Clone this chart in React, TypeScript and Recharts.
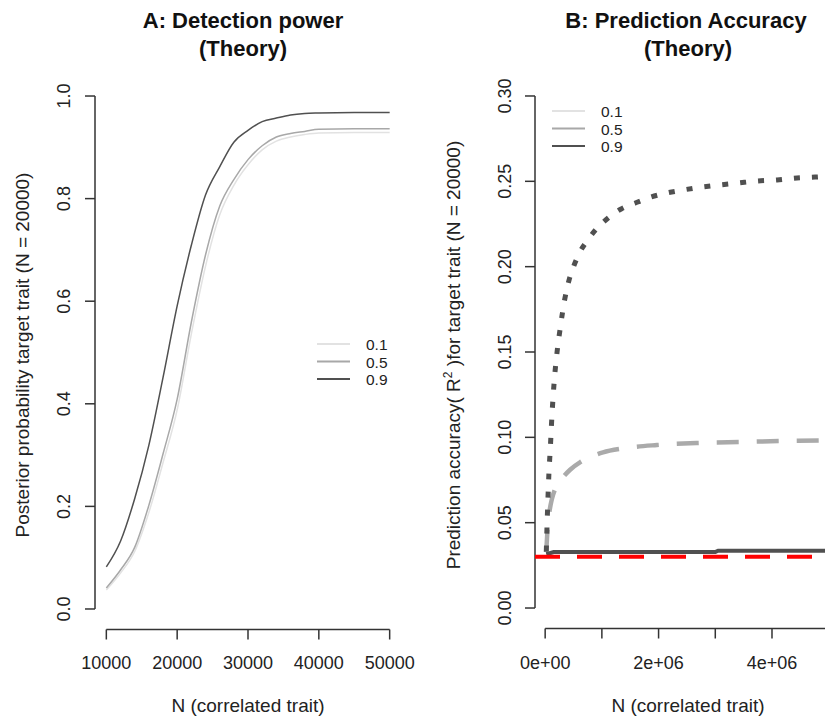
import React from 'react';
import { LineChart, Line, XAxis, YAxis, ReferenceLine } from 'recharts';

const FONT = '"Liberation Sans", Arial, sans-serif';

// Panel A: posterior probability vs N (correlated trait), one curve per correlation
const N_A = [10000, 12000, 14000, 16000, 18000, 20000, 22000, 24000, 26000, 28000, 30000, 32000, 34000, 36000, 38000, 40000, 45000, 50000];
const POWER_01 = [0.037, 0.07, 0.112, 0.188, 0.285, 0.388, 0.536, 0.668, 0.768, 0.826, 0.866, 0.895, 0.912, 0.92, 0.925, 0.928, 0.929, 0.929];
const POWER_05 = [0.041, 0.076, 0.12, 0.202, 0.302, 0.409, 0.559, 0.69, 0.785, 0.837, 0.876, 0.903, 0.92, 0.927, 0.931, 0.935, 0.936, 0.936];
const POWER_09 = [0.082, 0.132, 0.215, 0.319, 0.451, 0.591, 0.709, 0.807, 0.862, 0.91, 0.933, 0.95, 0.957, 0.963, 0.966, 0.967, 0.968, 0.968];
const X_TICKS_A = [10000, 20000, 30000, 40000, 50000];
const Y_TICKS_A = [0, 0.2, 0.4, 0.6, 0.8, 1.0];

// Panel B: prediction accuracy vs N (correlated trait)
const N_DOT = [20000, 30000, 45000, 65000, 90000, 120000, 160000, 210000, 270000, 340000, 420000, 500000, 620000, 760000, 920000, 1110000, 1340000, 1590000, 1870000, 2150000, 2430000, 2770000, 3080000, 3400000, 3750000, 4090000, 4440000, 4760000, 5000000];
const ACC_DOT = [0.033, 0.045, 0.06, 0.078, 0.093, 0.113, 0.133, 0.15, 0.165, 0.18, 0.192, 0.2, 0.209, 0.216, 0.2227, 0.2285, 0.2338, 0.2373, 0.2408, 0.2432, 0.2449, 0.2467, 0.2479, 0.249, 0.2502, 0.2508, 0.252, 0.2525, 0.253];
const N_DASH = [20000, 40000, 70000, 120000, 180000, 300000, 440000, 620000, 800000, 1020000, 1370000, 1970000, 2680000, 3440000, 4140000, 4900000, 5000000];
const ACC_DASH = [0.033, 0.045, 0.055, 0.064, 0.07, 0.076, 0.081, 0.0855, 0.0885, 0.0912, 0.0935, 0.0955, 0.0967, 0.0973, 0.0978, 0.0982, 0.0983];
const N_SOLID = [20000, 150000, 3000000, 3050000, 5000000];
const ACC_SOLID = [0.0315, 0.0328, 0.0328, 0.0336, 0.0336];
const BASELINE_R2 = 0.03;
const X_TICKS_B = [0, 1e6, 2e6, 3e6, 4e6, 5e6];
const X_LABELS_B = ['0e+00', '', '2e+06', '', '4e+06', ''];
const Y_TICKS_B = [0, 0.05, 0.1, 0.15, 0.2, 0.25, 0.3];

const LEGEND_LABELS = ['0.1', '0.5', '0.9'];
const LEGEND_COLORS = ['#e2e2e2', '#a8a8a8', '#505050'];

const dataA = N_A.map((n, i) => ({ n, p01: POWER_01[i], p05: POWER_05[i], p09: POWER_09[i] }));
const pts = (ns: number[], vs: number[]) => ns.map((n, i) => ({ n, v: vs[i] }));

const tickStyle = { fill: '#222', fontSize: 18, fontFamily: FONT };

const rotatedTick = (labelX: number, digits: number) => (props: any) => {
  const { y, payload } = props;
  return (
    <text x={labelX} y={y} transform={`rotate(-90 ${labelX} ${y})`} textAnchor="middle"
      fontSize={18} fill="#222" fontFamily={FONT}>
      {Number(payload.value).toFixed(digits)}
    </text>
  );
};

// legend rows are packed tight like the R legend
const Legend = ({ x, y }: { x: number; y: number }) => (
  <g>
    {LEGEND_LABELS.map((lab, i) => (
      <g key={lab}>
        <line x1={x} x2={x + 33} y1={y + i * 17.5} y2={y + i * 17.5} stroke={LEGEND_COLORS[i]} strokeWidth={2} />
        <text x={x + 49} y={y + i * 17.5 + 6} fontSize={15.5} fill="#222">{lab}</text>
      </g>
    ))}
  </g>
);

export default function App() {
  return (
    <div style={{ position: 'absolute', left: 0, top: 0, width: 825, height: 719, overflow: 'hidden', background: '#fff', fontFamily: FONT }}>
      {/* A: detection power */}
      <div style={{ position: 'absolute', left: 0, top: 0 }}>
        <LineChart width={825} height={719} data={dataA} margin={{ left: 35, right: 424, top: 75.5, bottom: 29.5 }}>
          <XAxis dataKey="n" type="number" domain={[8400, 51600]} ticks={X_TICKS_A} interval={0}
            axisLine={false} tickLine={{ stroke: '#333', strokeWidth: 1.5 }} tickSize={10} tickMargin={17}
            tick={tickStyle} height={60} />
          <YAxis type="number" domain={[-0.04, 1.04]} ticks={Y_TICKS_A} interval={0} width={60}
            axisLine={false} tickLine={{ stroke: '#333', strokeWidth: 1.5 }} tickSize={10}
            tick={rotatedTick(70, 1)} />
          <ReferenceLine ifOverflow="visible" stroke="#333" strokeWidth={1.5}
            segment={[{ x: X_TICKS_A[0], y: -0.04 }, { x: X_TICKS_A[X_TICKS_A.length - 1], y: -0.04 }]} />
          <ReferenceLine ifOverflow="visible" stroke="#333" strokeWidth={1.5}
            segment={[{ x: 8400, y: Y_TICKS_A[0] }, { x: 8400, y: Y_TICKS_A[Y_TICKS_A.length - 1] }]} />
          <Line dataKey="p01" type="monotone" stroke={LEGEND_COLORS[0]} strokeWidth={1.5} dot={false} isAnimationActive={false} />
          <Line dataKey="p05" type="monotone" stroke={LEGEND_COLORS[1]} strokeWidth={1.5} dot={false} isAnimationActive={false} />
          <Line dataKey="p09" type="monotone" stroke={LEGEND_COLORS[2]} strokeWidth={1.5} dot={false} isAnimationActive={false} />
        </LineChart>
      </div>

      {/* B: prediction accuracy (right edge runs past the picture) */}
      <div style={{ position: 'absolute', left: 0, top: 0 }}>
        <LineChart width={845} height={719} margin={{ left: 475, right: 5, top: 75.5, bottom: 30.5 }}>
          <XAxis dataKey="n" type="number" domain={[-179200, 5199200]} ticks={X_TICKS_B} interval={0}
            allowDataOverflow axisLine={false} tickLine={{ stroke: '#333', strokeWidth: 1.5 }} tickSize={10} tickMargin={18}
            tick={tickStyle} height={60} tickFormatter={(v: number) => X_LABELS_B[X_TICKS_B.indexOf(v)] ?? ''} />
          <YAxis type="number" domain={[-0.012, 0.312]} ticks={Y_TICKS_B} interval={0} width={60}
            allowDataOverflow axisLine={false} tickLine={{ stroke: '#333', strokeWidth: 1.5 }} tickSize={10}
            tick={rotatedTick(511, 2)} />
          <ReferenceLine ifOverflow="visible" stroke="#333" strokeWidth={1.5}
            segment={[{ x: X_TICKS_B[0], y: -0.012 }, { x: X_TICKS_B[X_TICKS_B.length - 1], y: -0.012 }]} />
          <ReferenceLine ifOverflow="visible" stroke="#333" strokeWidth={1.5}
            segment={[{ x: -179200, y: Y_TICKS_B[0] }, { x: -179200, y: Y_TICKS_B[Y_TICKS_B.length - 1] }]} />
          <Line data={pts(N_SOLID, ACC_SOLID)} dataKey="v" type="linear" stroke="#505050" strokeWidth={4} dot={false} isAnimationActive={false} />
          <Line data={pts(N_DASH, ACC_DASH)} dataKey="v" type="monotone" stroke="#aaaaaa" strokeWidth={4.5} strokeDasharray="22 18" dot={false} isAnimationActive={false} />
          <Line data={pts(N_DOT, ACC_DOT)} dataKey="v" type="monotone" stroke="#505050" strokeWidth={5} strokeDasharray="6 12" dot={false} isAnimationActive={false} />
          <ReferenceLine y={BASELINE_R2} stroke="#ff0000" strokeWidth={4} strokeDasharray="25 17" />
        </LineChart>
      </div>

      {/* titles, axis titles, legends */}
      <svg width={825} height={719} style={{ position: 'absolute', left: 0, top: 0, pointerEvents: 'none' }} fontFamily={FONT}>
        <g fontWeight="bold" fontSize={22} fill="#111" textAnchor="middle">
          <text x={243} y={28}>A: Detection power</text>
          <text x={243} y={56}>(Theory)</text>
          <text x={686} y={28}>B: Prediction Accuracy</text>
          <text x={688} y={56}>(Theory)</text>
        </g>
        <g fontSize={19} fill="#222" textAnchor="middle">
          <text x={248} y={712}>N (correlated trait)</text>
          <text x={688} y={712}>N (correlated trait)</text>
          <text x={29} y={355} transform="rotate(-90 29 355)">Posterior probability target trait (N = 20000)</text>
          <text x={460} y={355} transform="rotate(-90 460 355)">
            Prediction accuracy( R<tspan fontSize={12} dy={-8}>2</tspan><tspan dy={8}> )for target trait (N = 20000)</tspan>
          </text>
        </g>
        <Legend x={317} y={344} />
        <Legend x={552} y={111} />
      </svg>
    </div>
  );
}
